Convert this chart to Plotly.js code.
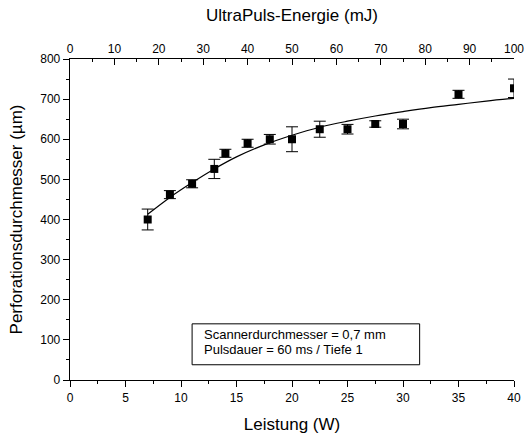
<!DOCTYPE html>
<html>
<head>
<meta charset="utf-8">
<script src="https://cdn.plot.ly/plotly-3.0.1.min.js"></script>
<style>html,body{margin:0;padding:0;background:#fff;}#chart{width:525px;height:437px;}</style>
</head>
<body>
<div id="chart"></div>
<script>
// Measured data
const leistung = [7, 9, 11, 13, 14, 16, 18, 20, 22.5, 25, 27.5, 30, 35, 40];
const durchmesser = [400, 462, 489, 526, 565, 590, 600, 600, 625, 625, 638, 638, 712, 727];
const fehler = [26, 10, 10, 24, 10, 10, 12, 31, 20, 12, 8, 12, 10, 23];
// Fit curve
const fitX = [7, 9, 11, 13, 15, 17.5, 20, 22.5, 25, 27.5, 30, 32.5, 35, 37.5, 40];
const fitY = [413, 455, 492, 526, 556, 586, 610, 630, 645, 658, 669, 679, 687, 695, 702];
// Annotation text
const infoLines = ["Scannerdurchmesser = 0,7 mm", "Pulsdauer = 60 ms / Tiefe 1"];

const font = "Liberation Sans, Arial, sans-serif";

const traces = [
  {
    x: fitX, y: fitY, mode: 'lines', type: 'scatter',
    line: {color: '#000', width: 1.2, shape: 'spline', smoothing: 1},
    hoverinfo: 'skip', showlegend: false
  },
  {
    x: leistung, y: durchmesser, mode: 'markers', type: 'scatter',
    marker: {symbol: 'square', size: 8, color: '#000'},
    error_y: {type: 'data', array: fehler, visible: true, color: '#000', thickness: 1, width: 6},
    showlegend: false
  },
  {
    x: [], y: [], xaxis: 'x2', type: 'scatter', mode: 'markers', showlegend: false
  }
];

const axisBase = {
  color: '#000',
  showline: true, linecolor: '#000', linewidth: 1.3,
  tickwidth: 1, tickcolor: '#000', ticklen: 6,
  showgrid: false, zeroline: false,
  tickfont: {family: font, size: 12, color: '#000'}
};

const layout = {
  width: 525, height: 437,
  margin: {l: 70, r: 11, t: 59, b: 57},
  paper_bgcolor: '#fff', plot_bgcolor: '#fff',
  font: {family: font, size: 12, color: '#000'},
  showlegend: false,
  xaxis: Object.assign({}, axisBase, {
    range: [0, 40], dtick: 5, tick0: 0, ticks: 'outside',
    minor: {dtick: 2.5, ticks: 'outside', ticklen: 3, tickcolor: '#000', showgrid: false},
    title: {text: 'Leistung (W)', font: {family: font, size: 17, color: '#000'}, standoff: 14}
  }),
  xaxis2: Object.assign({}, axisBase, {
    overlaying: 'x', side: 'top', range: [0, 100], dtick: 10, tick0: 0, ticks: 'inside',
    minor: {dtick: 5, ticks: 'inside', ticklen: 3, tickcolor: '#000', showgrid: false},
    title: {text: 'UltraPuls-Energie (mJ)', font: {family: font, size: 17, color: '#000'}, standoff: 16}
  }),
  yaxis: Object.assign({}, axisBase, {
    range: [0, 800], dtick: 100, tick0: 0, ticks: 'outside',
    minor: {dtick: 50, ticks: 'outside', ticklen: 3, tickcolor: '#000', showgrid: false},
    title: {text: 'Perforationsdurchmesser (µm)', font: {family: font, size: 17, color: '#000'}, standoff: 13}
  }),
  shapes: [{
    type: 'rect', xref: 'x', yref: 'y', x0: 11.0, x1: 31.5, y0: 38, y1: 140,
    line: {color: '#000', width: 1}, fillcolor: '#fff', layer: 'above'
  }],
  annotations: infoLines.map((t, i) => ({
    xref: 'x', yref: 'y', x: 11.9, y: [114, 75][i], xanchor: 'left', yanchor: 'middle',
    text: t, align: 'left', showarrow: false,
    font: {family: font, size: 13, color: '#000'}
  }))
};

Plotly.newPlot('chart', traces, layout, {displayModeBar: false, staticPlot: true});
</script>
</body>
</html>
